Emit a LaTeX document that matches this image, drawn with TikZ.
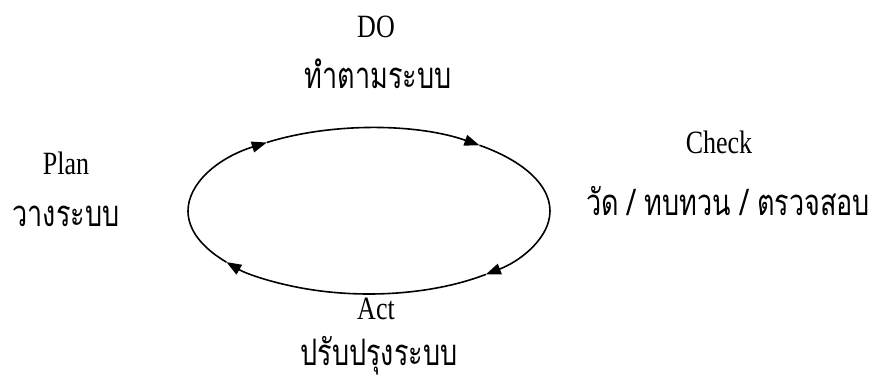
\documentclass[tikz,border=0pt]{standalone}
\usepackage{fontspec}
\setmainfont{Liberation Serif}
\newfontfamily\thaifont[Script=Thai]{Loma}
\usetikzlibrary{arrows.meta}
\newcommand{\tallthai}[1]{\scalebox{1}[1.35]{#1}}
\newcommand{\talllat}[1]{\scalebox{1}[1.25]{#1}}
\begin{document}
\begin{tikzpicture}[x=1pt,y=1pt,
  lat/.style={font=\fontsize{26}{30}\selectfont, inner sep=0pt},
  thai/.style={font=\thaifont\fontsize{27}{30}\selectfont, inner sep=0pt},
  cyc/.style={line width=1.6pt, black},
  tip/.style={-{Triangle[length=15pt,width=11pt]}}]
\useasboundingbox (0,0) rectangle (877,-384);
% cycle (ellipse made of arcs, arrowheads clockwise)
\foreach \s/\e in {180/124.4, 124.4/52.4, 52.4/-49.8, -49.8/-142}
  \draw[cyc,tip] ({369+181*cos(\s)},{-211+83*sin(\s)})
     arc[start angle=\s, end angle=\e, x radius=181, y radius=83];
\draw[cyc] ({369+181*cos(-142)},{-211+83*sin(-142)})
     arc[start angle=-142, end angle=-180, x radius=181, y radius=83];
% labels
\node[lat]  (do)    at (376,-27)  {\talllat{DO}};
\node[thai] (doth)  at (378,-74)  {\tallthai{ทำตามระบบ}};
\node[lat]  (check) at (719,-142) {\talllat{Check}};
\node[thai] (chth)  at (728,-201) {\tallthai{วัด / ทบทวน / ตรวจสอบ}};
\node[lat]  (plan)  at (66,-163)  {\talllat{Plan}};
\node[thai] (plth)  at (66,-216)  {\tallthai{วางระบบ}};
\node[lat]  (act)   at (376,-309) {\talllat{Act}};
\node[thai] (acth)  at (379,-356) {\tallthai{ปรับปรุงระบบ}};
\end{tikzpicture}
\end{document}
